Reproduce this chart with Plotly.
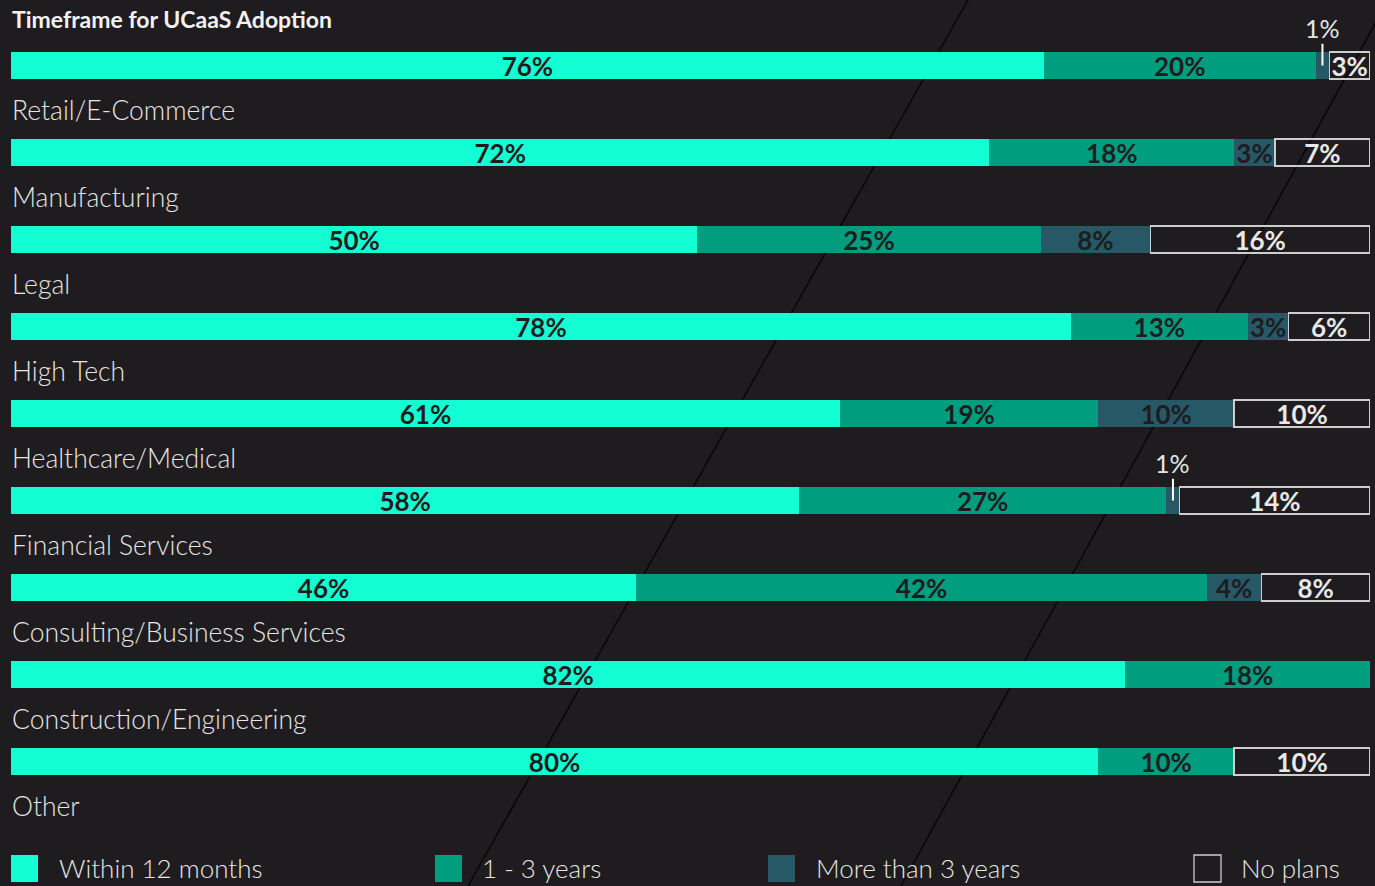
import plotly.graph_objects as go

categories = ["Retail/E-Commerce", "Manufacturing", "Legal", "High Tech", "Healthcare/Medical",
              "Financial Services", "Consulting/Business Services", "Construction/Engineering", "Other"]
within_12_months = [76, 72, 50, 78, 61, 58, 46, 82, 80]
one_to_three_years = [20, 18, 25, 13, 19, 27, 42, 18, 10]
more_than_3_years = [1, 3, 8, 3, 10, 1, 4, 0, 0]
no_plans = [3, 7, 16, 6, 10, 14, 8, 0, 10]
series_names = ["Within 12 months", "1 - 3 years", "More than 3 years", "No plans"]

W, H = 1375, 886
BG = "#1e1c1e"
OUTLINE = "#cdcdcd"
colors = ["#13ffd3", "#009d7e", "#265866", "rgba(0,0,0,0)"]
text_colors = [BG, BG, BG, "#e8e8e8"]
FONT = "Lato"

series = [within_12_months, one_to_three_years, more_than_3_years, no_plans]
totals = [sum(v) for v in zip(*series)]
rows = list(range(len(categories)))

fig = go.Figure()
for name, vals, col, tcol in zip(series_names, series, colors, text_colors):
    xs = [v / t * 100 if v else None for v, t in zip(vals, totals)]
    fig.add_trace(go.Bar(
        y=rows, x=xs, orientation="h", name=name, width=0.31,
        marker=dict(color=col,
                    line=dict(color=OUTLINE if name == "No plans" else col,
                              width=1.3 if name == "No plans" else 0)),
        text=[f"{v}%" if v and v >= 2 else "" for v in vals],
        textposition="inside", insidetextanchor="middle",
        textfont=dict(family=FONT, size=26, color=tcol, weight="bold"),
        cliponaxis=False, showlegend=False, hoverinfo="skip",
    ))


def px(x):
    return x / W


def py(y):
    return 1 - y / H


shapes = []
annotations = []

# background diagonal lines
for x0, x1 in [(968, 468), (1388, 901)]:
    shapes.append(dict(type="line", xref="paper", yref="paper", x0=px(x0), y0=1, x1=px(x1), y1=0,
                       line=dict(color="#080808", width=1.5), layer="below"))

# category labels below each bar
for i, c in enumerate(categories):
    annotations.append(dict(text=c, xref="paper", yref="y", x=px(10), y=i + 0.51,
                            xanchor="left", yanchor="middle", showarrow=False,
                            font=dict(family=FONT, size=26.5, color="#e6e6e6", weight=300)))

# call-outs for 1% segments
for i in rows:
    v = more_than_3_years[i]
    if v == 1:
        xm = (within_12_months[i] + one_to_three_years[i] + v / 2) / totals[i] * 100
        shapes.append(dict(type="line", xref="x", yref="y", x0=xm, x1=xm, y0=i - 0.25, y1=i,
                           line=dict(color="#ffffff", width=2)))
        annotations.append(dict(text=f"{v}%", xref="x", yref="y", x=xm, y=i - 0.43,
                                showarrow=False, xanchor="center", yanchor="middle",
                                font=dict(family=FONT, size=25, color="#e6e6e6")))

# title
annotations.append(dict(text="<b>Timeframe for UCaaS Adoption</b>", xref="paper", yref="paper",
                        x=px(10), y=py(19), xanchor="left", yanchor="middle", showarrow=False,
                        font=dict(family=FONT, size=23, color="#f2f2f2")))

# legend
legend_x = [(11, 57), (435, 480), (768, 814), (1194, 1239)]
for (sx, tx), name, col in zip(legend_x, series_names, colors):
    shapes.append(dict(type="rect", xref="paper", yref="paper", x0=px(sx), x1=px(sx + 27),
                       y0=py(882), y1=py(855), fillcolor=col,
                       line=dict(color=OUTLINE if name == "No plans" else col,
                                 width=1.3 if name == "No plans" else 0)))
    annotations.append(dict(text=name, xref="paper", yref="paper", x=px(tx), y=py(868),
                            xanchor="left", yanchor="middle", showarrow=False,
                            font=dict(family=FONT, size=26, color="#e6e6e6", weight=300)))

fig.update_layout(
    width=W, height=H, barmode="stack",
    paper_bgcolor=BG, plot_bgcolor="rgba(0,0,0,0)",
    margin=dict(l=0, r=0, t=0, b=0),
    xaxis=dict(domain=[px(11), px(1370)], range=[0, 100], visible=False, fixedrange=True),
    yaxis=dict(domain=[0, 1], range=[9.431, -0.753], visible=False, fixedrange=True),
    uniformtext=dict(minsize=26, mode="show"),
    shapes=shapes, annotations=annotations,
)

fig.write_html("out.html", config={"displayModeBar": False},
               post_script="document.body.style.margin='0';document.body.style.overflow='hidden';")
